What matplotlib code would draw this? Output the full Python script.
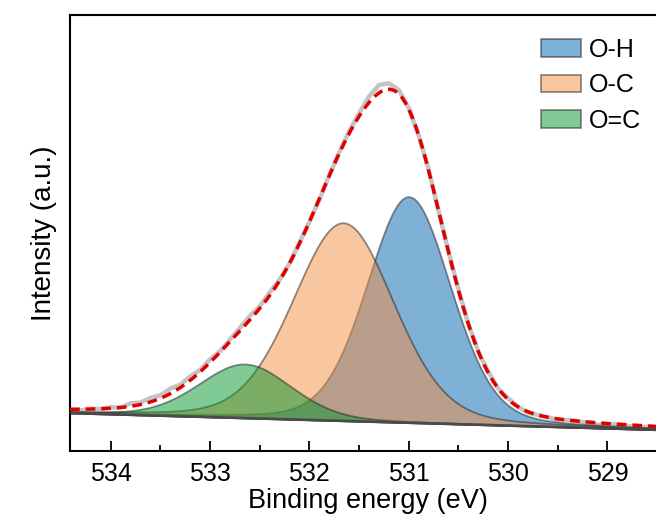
import numpy as np
import matplotlib
matplotlib.use("Agg")
import matplotlib.pyplot as plt

plt.rcParams['font.family'] = ['Liberation Sans', 'DejaVu Sans']

# peak parameters (height in arbitrary units above background)
peak_names = ['O-H', 'O-C', 'O=C']
peak_centers = [531.0, 531.66, 532.65]
peak_heights = [226, 198, 54]
peak_fwhm = [1.0, 1.2, 1.1]
lorentz_frac = 0.2

# linear background at both ends of the scan
bg_energy = [534.41, 528.41]
bg_level = [38, 21]

# raw spectrum = fit + small deviations, 0.1 eV steps
raw_energy = np.round(np.arange(534.4, 528.35, -0.1), 2)
raw_offset = [-1, -1, 0, 0, 1, 0, 3, 2, 4, 3, 5, 3, 4, 2, 3, 1, 2, 3, 4, 2,
              3, 1, 0, 1, 0, -1, 0, 1, 2, 3, 6, 8, 6, 4, 1, 0, 1, 0, 0, 1,
              0, 0, 1, 0, 1, 0, -1, 0, 0, -1, 0, 0, -1, -2, -1, 0, -1, -2, -1, -1, -1]

fill_colors = ['#0064af', '#f38f41', '#00962d']


def pseudo_voigt(x, c, h, w, eta):
    g = np.exp(-4 * np.log(2) * ((x - c) / w) ** 2)
    l = 1 / (1 + 4 * ((x - c) / w) ** 2)
    return h * ((1 - eta) * g + eta * l)


def background(x):
    return np.interp(x, bg_energy[::-1], bg_level[::-1])


x = np.linspace(534.41, 528.41, 800)
bg = background(x)
comps = [pseudo_voigt(x, c, h, w, lorentz_frac)
         for c, h, w in zip(peak_centers, peak_heights, peak_fwhm)]
fit = bg + sum(comps)

raw_fit = background(raw_energy) + sum(
    pseudo_voigt(raw_energy, c, h, w, lorentz_frac)
    for c, h, w in zip(peak_centers, peak_heights, peak_fwhm))
raw = raw_fit + np.array(raw_offset[:len(raw_energy)])

fig = plt.figure(figsize=(6.56, 5.24), dpi=100)
ax = fig.add_axes([70 / 656, 73 / 524, 596 / 656, 436 / 524])

ax.plot(raw_energy, raw, color='#c4c4c4', lw=3.2, zorder=1)

for comp, col, name in zip(comps, fill_colors, peak_names):
    ax.fill_between(x, bg, bg + comp, facecolor=col, edgecolor='#222222',
                    lw=1.3, alpha=0.5, label=name, zorder=2)

ax.plot(x, bg, color='#4a4a4a', lw=1.8, zorder=3)
ax.plot(x, fit, color='#e00000', lw=2.5, ls=(0, (2.8, 1.7)), zorder=4)

ax.set_xlim(534.41, 528.41)
ax.set_ylim(0, 436)
ax.set_xticks([534, 533, 532, 531, 530, 529])
ax.set_xticks(np.arange(533.5, 528.4, -1), minor=True)
ax.set_yticks([])
ax.tick_params(axis='x', which='major', direction='in', length=7.5, width=1.3,
               labelsize=18, pad=8)
ax.tick_params(axis='x', which='minor', direction='in', length=4, width=1.3)
for s in ax.spines.values():
    s.set_linewidth(1.5)

ax.set_xlabel('Binding energy (eV)', fontsize=19.5, labelpad=1)
ax.set_ylabel('Intensity (a.u.)', fontsize=20, labelpad=9)

ax.legend(loc='upper left', bbox_to_anchor=(541 / 656, 1 - 38 / 524),
          bbox_transform=fig.transFigure, frameon=False, fontsize=18,
          handlelength=1.6, handleheight=0.72, handletextpad=0.3,
          labelspacing=0.45, borderpad=0, borderaxespad=0)

fig.savefig('out.png', dpi=100)
